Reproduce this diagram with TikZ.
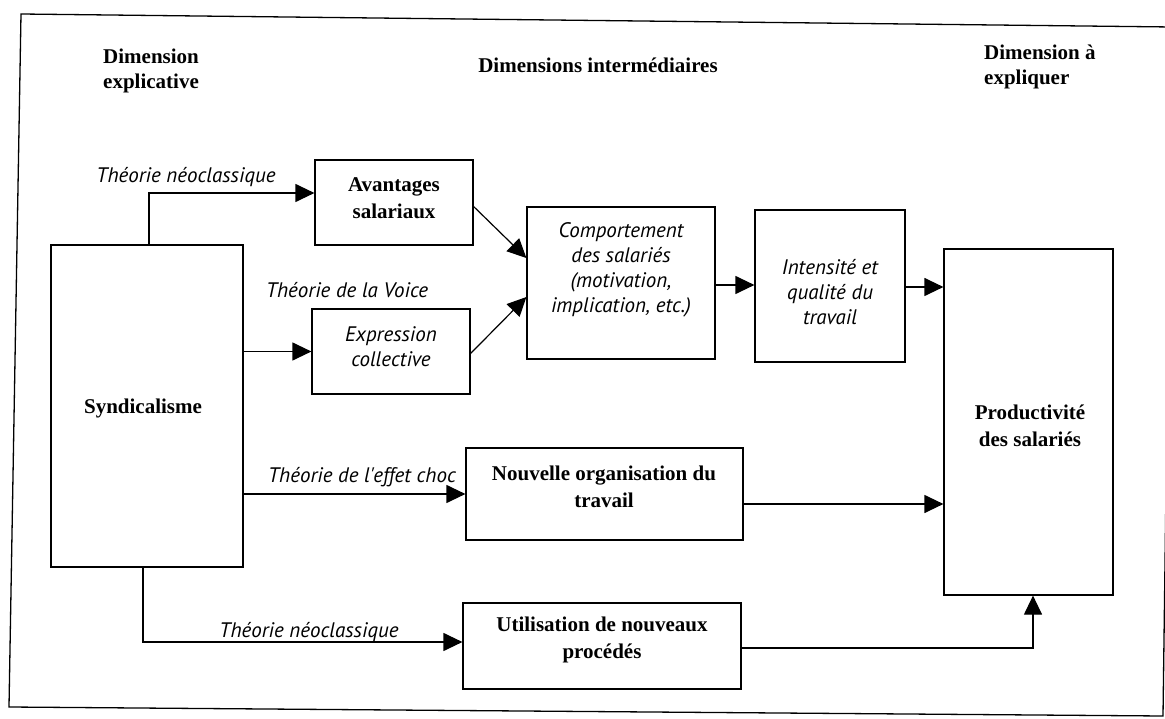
\documentclass[tikz,border=0pt]{standalone}
\usepackage{fontspec}
\setmainfont{Liberation Serif}
\newfontfamily\labfont{PT Sans}
\usetikzlibrary{arrows.meta,calc}
\begin{document}
\begin{tikzpicture}[x=1pt,y=-1pt,
  box/.style={draw, line width=1.2pt, inner sep=0pt},
  bt/.style={font=\fontsize{21}{27}\selectfont\bfseries, align=center, inner sep=0pt},
  it/.style={font=\labfont\itshape\fontsize{21}{25}\selectfont, align=center, inner sep=0pt},
  lab/.style={font=\labfont\itshape\fontsize{21}{24}\selectfont, inner sep=0pt},
  hd/.style={font=\fontsize{21}{25.5}\selectfont\bfseries, align=left, inner sep=0pt},
  arr/.style={line width=1.2pt, -{Triangle[length=19pt,width=18pt]}}
]
\useasboundingbox (0,0) rectangle (1165,719);
% outer frame
\draw[line width=1.3pt] (21,14) -- (1172,27) -- (1163,716) -- (9,707) -- cycle;

% headers
\node[hd, anchor=west] (h1) at (103,71) {Dimension\\explicative};
\node[hd] (h2) at (598,65) {Dimensions intermédiaires};
\node[hd, anchor=west] (h3) at (984,67) {Dimension à\\expliquer};

% boxes
\node[box, minimum width=192pt, minimum height=322pt] (synd) at (147,406) {};
\node[box, minimum width=158pt, minimum height=85pt] (avant) at (394,202.5) {};
\node[box, minimum width=158pt, minimum height=85pt] (expr) at (391,351.5) {};
\node[box, minimum width=188pt, minimum height=152pt] (comp) at (621,283) {};
\node[box, minimum width=150pt, minimum height=152pt] (inten) at (830,286) {};
\node[box, minimum width=169pt, minimum height=346pt] (prod) at (1028.5,422) {};
\node[box, minimum width=277pt, minimum height=92pt] (nouv) at (604.5,494) {};
\node[box, minimum width=278pt, minimum height=86pt] (util) at (602,646) {};

% box texts
\node[bt] (synd-t) at (143,408) {Syndicalisme};
\node[bt] (avant-t) at (394,198) {Avantages\\salariaux};
\node[it] (expr-t) at (391,347) {Expression\\collective};
\node[it] (comp-t) at (621,270) {Comportement\\des salariés\\(motivation,\\implication, etc.)};
\node[it] (inten-t) at (830,292) {Intensité et\\qualité du\\travail};
\node[bt] (prod-t) at (1030,426) {Productivité\\des salariés};
\node[bt] (nouv-t) at (604,487) {Nouvelle organisation du\\travail};
\node[bt] (util-t) at (602,640) {Utilisation de nouveaux\\procédés};

% connector labels
\node[lab] (l1) at (186,177) {Théorie néoclassique};
\node[lab] (l2) at (347,290) {Théorie de la Voice};
\node[lab] (l3) at (362,477) {Théorie de l'effet choc};
\node[lab] (l4) at (309,632) {Théorie néoclassique};

% connectors
\draw[arr] ([xshift=2pt]synd.north) |- ([yshift=9.5pt]avant.west);
\draw[arr] (expr.west -| synd.east) -- (expr.west);
\draw[arr] (nouv.west -| synd.east) -- (nouv.west);
\draw[arr] ([yshift=-4pt]avant.east) -- ([yshift=25pt]comp.west);
\draw[arr] ([yshift=-2pt]expr.east) -- ([yshift=-14pt]comp.west);
\draw[arr] ([yshift=-2pt]comp.east) -- ([yshift=-2pt]comp.east -| inten.west);
\draw[arr] ([yshift=-1pt]inten.east) -- ([yshift=-1pt]inten.east -| prod.west);
\draw[arr] ([yshift=-10pt]nouv.east) -- ([yshift=-10pt]nouv.east -| prod.west);
\draw[arr] ([xshift=-4pt]synd.south) |- ([yshift=4pt]util.west);
\draw[arr] ([yshift=-2pt]util.east) -| ([xshift=4.5pt]prod.south);
\end{tikzpicture}
\end{document}
